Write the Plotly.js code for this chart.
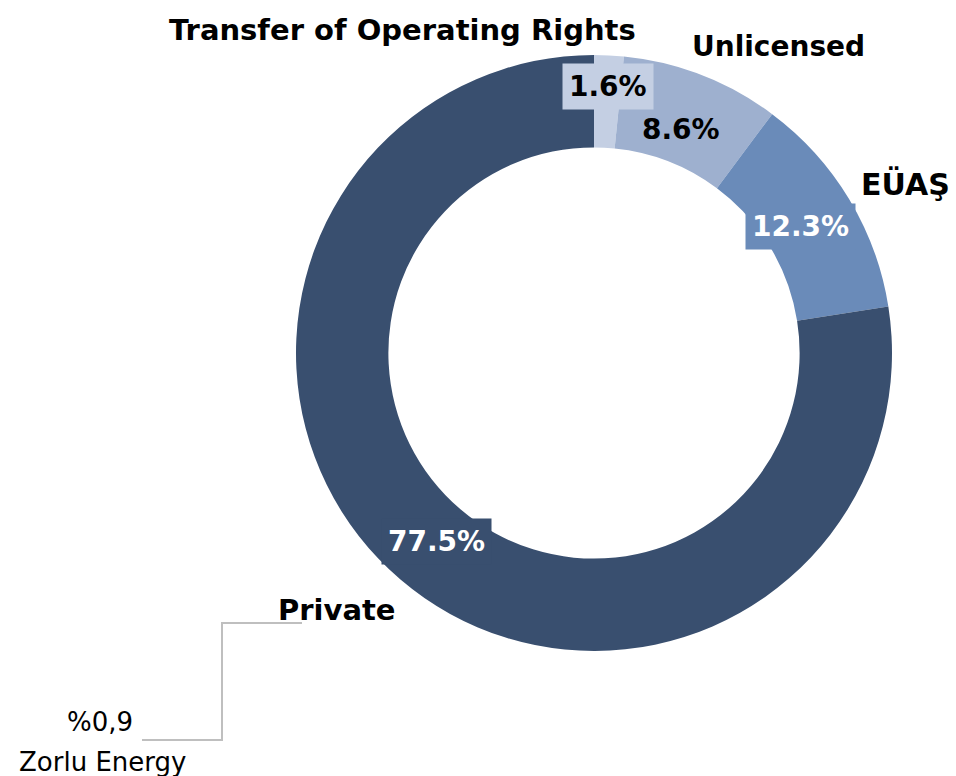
<!DOCTYPE html>
<html>
<head>
<meta charset="utf-8">
<script src="https://cdn.plot.ly/plotly-3.0.1.min.js"></script>
<style>html,body{margin:0;padding:0;background:#fff;}#chart{width:956px;height:776px;}</style>
</head>
<body>
<div id="chart"></div>
<script>
const categories = ["Transfer of Operating Rights", "Unlicensed", "EÜAŞ", "Private"];
const shares = [1.6, 8.6, 12.3, 77.5];
const sliceColors = ["#c4cfe3", "#9eb0cf", "#6a8bb9", "#394f6f"];
const zorluShare = "%0,9";
const zorluName = "Zorlu Energy";

const W = 956, H = 776;
const FONT = "'DejaVu Sans', sans-serif";
function px(x){return x / W;}
function py(y){return 1 - y / H;}

// label placements (pixel centres) for names and percentage labels
const namePos = [[402, 30], [778, 46], [905, 184], [337, 610]];
const nameSize = [29, 28, 30, 29];
const pctPos = [[608, 86], [681, 130], [800, 226], [436, 541]];
const pctText = ["#000000", "#000000", "#ffffff", "#ffffff"];
const pctBox = [true, false, true, true];

const annotations = [];
categories.forEach((c, i) => {
  annotations.push({
    text: "<b>" + c + "</b>", xref: "paper", yref: "paper",
    x: px(namePos[i][0]), y: py(namePos[i][1]), xanchor: "center", yanchor: "middle",
    showarrow: false, font: {family: FONT, size: nameSize[i], color: "#000"}
  });
  annotations.push({
    text: "<b>" + shares[i].toFixed(1) + "%</b>", xref: "paper", yref: "paper",
    x: px(pctPos[i][0]), y: py(pctPos[i][1]), xanchor: "center", yanchor: "middle",
    showarrow: false, font: {family: FONT, size: 28, color: pctText[i]},
    bgcolor: pctBox[i] ? sliceColors[i] : "rgba(0,0,0,0)", borderpad: 6
  });
});
annotations.push({
  text: zorluShare, xref: "paper", yref: "paper", x: px(135), y: py(722),
  xanchor: "right", yanchor: "middle", showarrow: false,
  font: {family: FONT, size: 26, color: "#000"}
});
annotations.push({
  text: zorluName, xref: "paper", yref: "paper", x: px(102), y: py(762),
  xanchor: "center", yanchor: "middle", showarrow: false,
  font: {family: FONT, size: 26, color: "#000"}
});

const data = [{
  type: "pie",
  labels: categories,
  values: shares,
  hole: 0.69,
  sort: false,
  direction: "clockwise",
  rotation: 0,
  marker: {colors: sliceColors, line: {width: 0}},
  textinfo: "none",
  hoverinfo: "label+percent",
  domain: {x: [px(296), px(892)], y: [py(651), py(55)]},
  showlegend: false
}];

const layout = {
  width: W, height: H,
  margin: {l: 0, r: 0, t: 0, b: 0},
  paper_bgcolor: "#fff",
  showlegend: false,
  annotations: annotations,
  shapes: [{
    type: "path", xref: "paper", yref: "paper",
    path: `M ${px(142)} ${py(740)} L ${px(222)} ${py(740)} L ${px(222)} ${py(623)} L ${px(302)} ${py(623)}`,
    line: {color: "#bfbfbf", width: 2}
  }]
};

Plotly.newPlot("chart", data, layout, {displayModeBar: false, staticPlot: true});
</script>
</body>
</html>
